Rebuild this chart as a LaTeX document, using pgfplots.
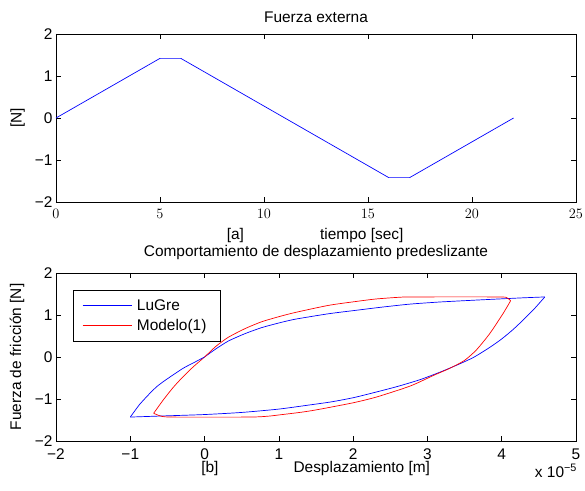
\documentclass[border=0pt]{standalone}
\usepackage{pgfplots}
\pgfplotsset{compat=1.18}
\usepackage{fontspec}
\setmainfont{Liberation Sans}

\pgfplotsset{
  matstyle/.style={
    scale only axis,
    width=520bp, height=168bp,
    axis line style={line width=0.9pt},
    tick align=inside,
    xtick pos=both, ytick pos=both,
    major tick length=5bp,
    every tick/.style={black, line width=0.6pt},
    tick label style={font=\fontsize{15.5}{18}\selectfont},
    xticklabel style={yshift=-4bp},
    ymin=-2, ymax=2,
    ytick={-2,-1,0,1,2},
    yticklabels={−2,−1,0,1,2},
    clip=false,
  },
  curve/.style={line width=0.7pt, smooth, tension=0.4},
}
\tikzset{desc/.style={font=\fontsize{15.5}{18}\selectfont, inner sep=0pt}}

\begin{document}
\begin{tikzpicture}
\useasboundingbox (0bp,0bp) rectangle (585bp,491bp);

% External force input
\begin{axis}[matstyle,
  at={(56bp,289bp)}, anchor=south west,
  xmin=0, xmax=25,
  xtick={0,5,10,15,20,25},
]
\addplot[blue, line width=0.7pt] coordinates {
  (0,0) (5,1.42) (6,1.42) (16,-1.42) (17,-1.42) (22,0)
};
\node[desc] at (axis description cs:0.5,1.101) {Fuerza externa};
\node[desc] at (axis description cs:0.345,-0.2) {[a]};
\node[desc] at (axis description cs:0.588,-0.2) {tiempo [sec]};
\node[desc, rotate=90] at (axis description cs:-0.074,0.5) {[N]};
\end{axis}

% Pre-sliding hysteresis loops (displacement in units of 1e-5 m)
\begin{axis}[matstyle,
  at={(56bp,50bp)}, anchor=south west,
  xmin=-2, xmax=5,
  xtick={-2,-1,0,1,2,3,4,5},
  xticklabels={−2,−1,0,1,2,3,4,5},
  legend style={at={(0.0327,0.899)}, anchor=north west,
    fill=white,
    font=\fontsize{15.5}{18}\selectfont,
    inner xsep=9bp, inner ysep=8bp, row sep=4bp,
    nodes={inner xsep=5bp, inner ysep=1.5bp}},
  legend cell align=left,
]
\addlegendimage{legend image code/.code={\draw[draw=blue, line width=0.75pt] (0bp,0bp) -- (49bp,0bp);}}
\addlegendentry{LuGre}
\addlegendimage{legend image code/.code={\draw[draw=red, line width=0.75pt] (0bp,0bp) -- (49bp,0bp);}}
\addlegendentry{Modelo(1)}
% LuGre: initial loading branch
\addplot[blue, curve, forget plot] coordinates {
  (0,0) (0.15,0.19) (0.32,0.38) (0.55,0.56) (0.77,0.70) (1.0,0.81)
  (1.22,0.90) (1.67,1.03) (2.03,1.11) (2.4,1.19) (2.77,1.26) (3.17,1.31)
  (3.6,1.35) (4.0,1.385) (4.3,1.41) (4.58,1.43)
};
% Modelo(1): loading branch up to the upper reversal
\addplot[red, curve, forget plot] coordinates {
  (-0.685,-1.34) (-0.555,-1.02) (-0.42,-0.72) (-0.29,-0.47) (-0.15,-0.23)
  (0,0) (0.15,0.25) (0.32,0.47) (0.55,0.68) (0.77,0.84) (1.0,0.96)
  (1.22,1.06) (1.67,1.23) (2.03,1.32) (2.3,1.38) (2.6,1.42) (2.8,1.43)
  (3.95,1.43) (4.07,1.41) (4.12,1.34)
};
% LuGre: unloading branch
\addplot[blue, curve, forget plot] coordinates {
  (4.58,1.43) (4.45,1.17) (4.3,0.90) (4.15,0.65) (4.0,0.43) (3.84,0.23)
  (3.62,-0.01) (3.4,-0.19) (3.17,-0.36) (2.9,-0.54) (2.6,-0.70) (2.32,-0.83)
  (2.0,-0.97) (1.7,-1.07) (1.42,-1.14) (1.0,-1.24) (0.5,-1.32) (0.0,-1.37)
  (-0.5,-1.40) (-1.0,-1.43)
};
% LuGre: reloading branch back to zero force
\addplot[blue, curve, forget plot] coordinates {
  (-1.0,-1.43) (-0.93,-1.26) (-0.87,-1.12) (-0.75,-0.89) (-0.64,-0.70)
  (-0.51,-0.53) (-0.29,-0.27) (-0.14,-0.13) (0,0)
};
% Modelo(1): unloading branch down to the lower reversal
\addplot[red, curve, forget plot] coordinates {
  (4.12,1.34) (4.02,1.04) (3.84,0.56) (3.66,0.17) (3.5,-0.08) (3.3,-0.27)
  (3.08,-0.44) (2.77,-0.69) (2.32,-0.95) (2.0,-1.09) (1.5,-1.26) (1.28,-1.32)
  (1.0,-1.38) (0.85,-1.41) (0.6,-1.43) (-0.45,-1.43) (-0.6,-1.40) (-0.685,-1.34)
};
\node[desc] at (axis description cs:0.5,1.119) {Comportamiento de desplazamiento predeslizante};
\node[desc] at (axis description cs:0.296,-0.165) {[b]};
\node[desc] at (axis description cs:0.588,-0.165) {Desplazamiento [m]};
\node[desc, rotate=90] at (axis description cs:-0.075,0.5) {Fuerza de fricción [N]};
\node[desc, anchor=base] at (axis description cs:0.9615,-0.215) {x 10\textsuperscript{−5}};
\end{axis}
\end{tikzpicture}
\end{document}
